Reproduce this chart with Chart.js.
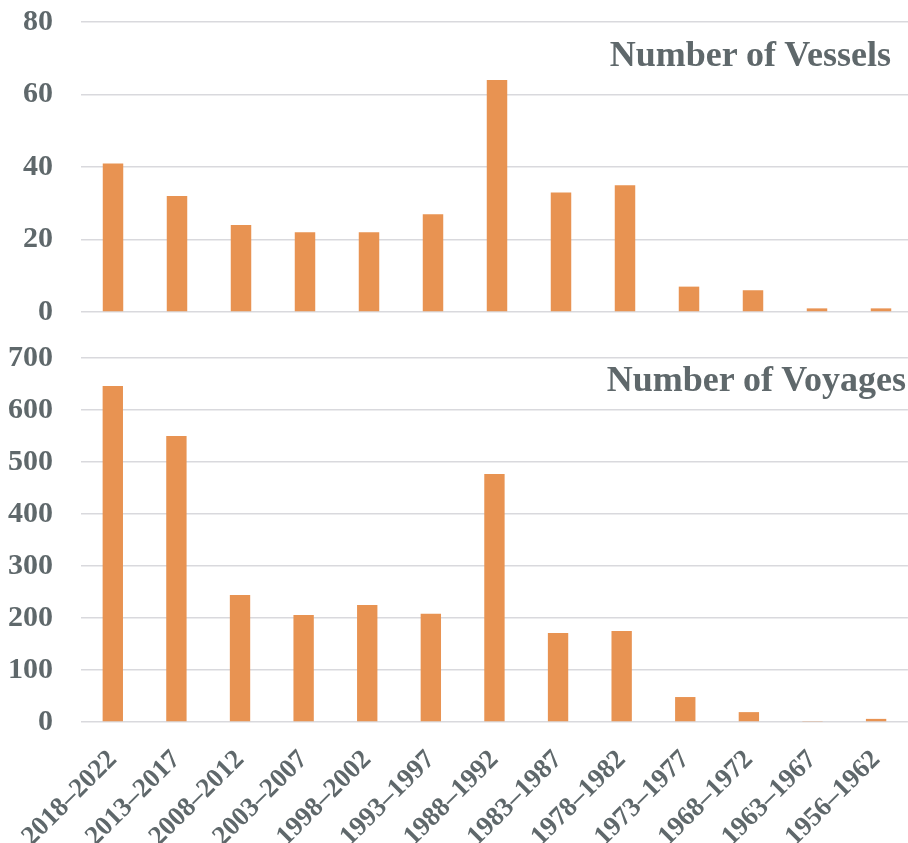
<!DOCTYPE html>
<html>
<head>
<meta charset="utf-8">
<script src="https://cdn.jsdelivr.net/npm/chart.js@4"></script>
<style>
  html, body { margin: 0; padding: 0; background: #fff; overflow: hidden; }
  body { width: 908px; height: 843px; position: relative; }
  .panel { position: absolute; left: 0; width: 913px; }
  #top { top: -24px; height: 382px; }
  #bottom { top: 312px; height: 531px; }
  .titulo {
    position: absolute;
    font-family: "Liberation Serif", serif; font-weight: bold;
    font-size: 36px; color: #5f686b; white-space: nowrap;
  }
</style>
</head>
<body>
<div class="panel" id="top"><canvas id="vessels"></canvas></div>
<div class="panel" id="bottom"><canvas id="voyages"></canvas></div>
<div class="titulo" style="top:33px; right:17px;">Number of Vessels</div>
<div class="titulo" style="top:358px; right:2px;">Number of Voyages</div>
<script>
const periodos = ["2018–2022", "2013–2017", "2008–2012", "2003–2007", "1998–2002", "1993–1997",
  "1988–1992", "1983–1987", "1978–1982", "1973–1977", "1968–1972", "1963–1967", "1956–1962"];
const buques = [41, 32, 24, 22, 22, 27, 64, 33, 35, 7, 6, 1, 1];
const viajes = [646, 550, 244, 206, 225, 208, 477, 171, 175, 48, 19, 1, 6];
const ticksBuques = [0, 20, 40, 60, 80];
const ticksViajes = [0, 100, 200, 300, 400, 500, 600, 700];

const gris = "#5f686b";
const naranja = "rgb(232, 147, 82)";
const fuente = "'Liberation Serif', 'Times New Roman', serif";

function crearGrafico(canvas, datos, marcas, mostrarX) {
    return new Chart(canvas, {
        type: "bar",
        data: {
            labels: periodos,
            datasets: [{
                data: datos,
                backgroundColor: naranja,
                borderWidth: 0,
                barPercentage: 0.32,
                categoryPercentage: 1
            }]
        },
        options: {
            responsive: true,
            maintainAspectRatio: false,
            animation: false,
            plugins: { legend: { display: false }, tooltip: { enabled: false } },
            scales: {
                x: {
                    display: mostrarX,
                    grid: { display: false },
                    border: { display: false },
                    ticks: {
                        color: gris,
                        font: { family: fuente, size: 27, weight: "bold" },
                        minRotation: 45,
                        maxRotation: 45,
                        padding: 14,
                        autoSkip: false
                    },
                    afterFit: scale => { if (mostrarX) scale.height = 121; }
                },
                y: {
                    min: 0,
                    max: marcas[marcas.length - 1],
                    afterBuildTicks: scale => { scale.ticks = marcas.map(v => ({ value: v })); },
                    afterFit: scale => { scale.width = 81; },
                    grid: { color: "#d9d9dd", lineWidth: 1.5, drawTicks: false },
                    border: { display: false },
                    ticks: {
                        color: gris,
                        font: { family: fuente, size: 30, weight: "bold" },
                        padding: 28
                    }
                }
            }
        }
    });
}

crearGrafico(document.getElementById("vessels"), buques, ticksBuques, false);
crearGrafico(document.getElementById("voyages"), viajes, ticksViajes, true);
</script>
</body>
</html>
